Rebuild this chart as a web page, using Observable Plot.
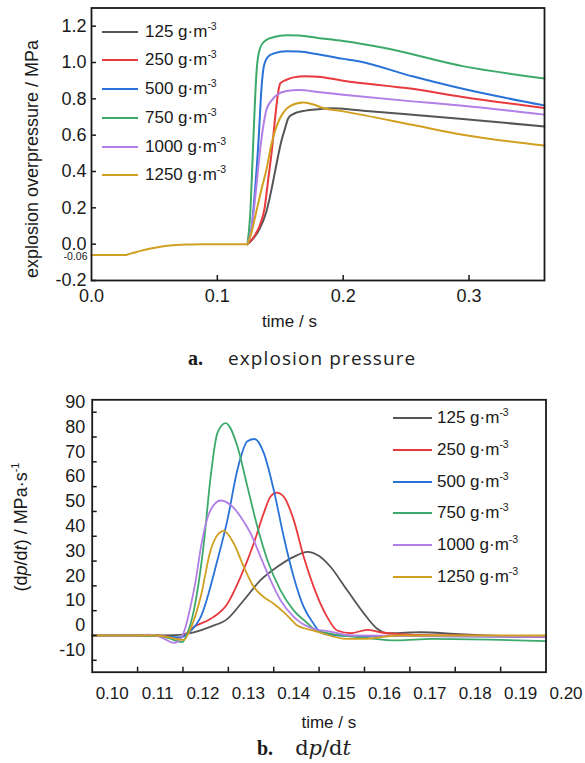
<!DOCTYPE html>
<html><head><meta charset="utf-8">
<script src="https://cdn.jsdelivr.net/npm/d3@7"></script>
<script src="https://cdn.jsdelivr.net/npm/@observablehq/plot@0.6"></script>
<style>
body{margin:0;background:#fff;}
#wrap{position:relative;width:585px;height:763px;overflow:hidden;font-family:"Liberation Sans",Arial,sans-serif;color:#1a1a1a;}
.abs{position:absolute;}
.leg{position:absolute;font-size:17px;line-height:20px;white-space:nowrap;}
.sw{position:absolute;height:0;border-top:2px solid;}
.sup{font-size:10.5px;position:relative;top:-7px;}
.cap{position:absolute;white-space:pre;line-height:30px;}
</style></head><body><div id="wrap"></div>
<script>
// ---------- data ----------
const legendNames = ["125", "250", "500", "750", "1000", "1250"];
const colors = ["#555555", "#e8393d", "#2872d8", "#3caa6b", "#b17fe6", "#d1a020"];

// panel a: explosion overpressure (MPa) vs time (s)
const pBaseline = [[0,-0.06],[0.026,-0.06],[0.031,-0.052],[0.039,-0.037],[0.047,-0.024],[0.056,-0.013],[0.065,-0.006],[0.076,-0.002],[0.087,0.0],[0.124,0.0]];
const p125  = [[0.124,0],[0.1284,0.03],[0.134,0.09],[0.139,0.18],[0.143,0.30],[0.147,0.44],[0.151,0.57],[0.1535,0.63],[0.1565,0.695],[0.160,0.715],[0.170,0.735],[0.180,0.743],[0.19,0.748],[0.216,0.735],[0.255,0.713],[0.295,0.689],[0.36,0.648]];
const p250  = [[0.124,0],[0.128,0.03],[0.1335,0.10],[0.1376,0.2],[0.1405,0.36],[0.1434,0.52],[0.146,0.70],[0.1487,0.85],[0.150,0.885],[0.155,0.905],[0.1606,0.918],[0.17,0.925],[0.18,0.922],[0.2,0.90],[0.255,0.855],[0.295,0.81],[0.36,0.75]];
const p500  = [[0.124,0],[0.127,0.08],[0.130,0.3],[0.133,0.6],[0.135,0.85],[0.137,0.98],[0.140,1.03],[0.145,1.05],[0.155,1.062],[0.165,1.06],[0.18,1.045],[0.2,1.02],[0.21,1.01],[0.255,0.924],[0.295,0.855],[0.36,0.764]];
const p750  = [[0.124,0],[0.126,0.15],[0.1283,0.52],[0.130,0.8],[0.1315,0.98],[0.134,1.08],[0.138,1.12],[0.145,1.14],[0.155,1.15],[0.165,1.148],[0.18,1.135],[0.2,1.118],[0.232,1.081],[0.295,0.98],[0.36,0.912]];
const p1000 = [[0.124,0],[0.127,0.08],[0.130,0.25],[0.134,0.52],[0.137,0.67],[0.139,0.74],[0.143,0.79],[0.147,0.82],[0.155,0.843],[0.165,0.848],[0.18,0.838],[0.2,0.823],[0.255,0.786],[0.295,0.762],[0.36,0.713]];
const p1250 = [[0.124,0],[0.127,0.06],[0.131,0.18],[0.135,0.3],[0.139,0.41],[0.143,0.55],[0.147,0.648],[0.152,0.72],[0.1577,0.76],[0.168,0.78],[0.175,0.772],[0.184,0.75],[0.2,0.731],[0.255,0.657],[0.295,0.602],[0.36,0.543]];
const xTickLabelsA = [0, 0.1, 0.2, 0.3];
const xTickMarksA = [0.1, 0.2, 0.3];
const yTicksA = [-0.2, 0, 0.2, 0.4, 0.6, 0.8, 1.0, 1.2];
const baselineLabel = [-0.06];

// panel b: dp/dt (MPa/s) vs time (s)
const d125  = [[0.100,0],[0.114,0],[0.118,0.1],[0.1224,1.3],[0.126,3.5],[0.1298,6.7],[0.1334,14.2],[0.1371,22.3],[0.1408,27.7],[0.1444,31.7],[0.1474,33.7],[0.150,32],[0.1525,27.7],[0.1562,18.2],[0.1599,8.8],[0.1628,2.7],[0.165,0.9],[0.170,1.2],[0.1724,1.3],[0.180,0.6],[0.190,-0.2],[0.200,-0.5]];
const d250  = [[0.100,0],[0.114,0],[0.117,-0.5],[0.119,-1],[0.1205,0.5],[0.1224,3.4],[0.1261,6.7],[0.1298,12.8],[0.1327,23.6],[0.1356,37.1],[0.1378,49.3],[0.1393,56],[0.1406,57.6],[0.1422,56],[0.1444,46.6],[0.1466,31.7],[0.1488,19.6],[0.1518,7.4],[0.154,2],[0.157,0.9],[0.1606,2.3],[0.1635,1.3],[0.170,0.3],[0.180,0],[0.200,-0.7]];
const d500  = [[0.100,0],[0.114,0],[0.117,-0.6],[0.1195,-0.8],[0.1215,1.5],[0.1239,7.4],[0.1276,30.4],[0.1298,46.6],[0.132,66.8],[0.1342,78.3],[0.1358,79.2],[0.1378,73.6],[0.140,58.7],[0.1422,39.8],[0.1444,23.6],[0.1466,11.5],[0.1488,4.7],[0.1503,1.3],[0.1525,0.2],[0.160,-0.2],[0.180,-0.3],[0.200,-0.5]];
const d750  = [[0.100,0],[0.114,0],[0.117,-1.2],[0.1198,-2.7],[0.121,1],[0.1224,10.1],[0.1246,37.1],[0.1261,64],[0.1276,81.7],[0.1294,85.6],[0.132,76.2],[0.1342,60],[0.1364,43.8],[0.1386,30.4],[0.1415,18.2],[0.1444,10.1],[0.1474,5],[0.1488,2.7],[0.1525,0.7],[0.1599,-0.9],[0.1672,-2],[0.175,-1.4],[0.190,-1.8],[0.200,-2.3]];
const d1000 = [[0.100,0],[0.110,0],[0.112,0.3],[0.114,0],[0.116,-1.5],[0.118,-3],[0.1195,-1.5],[0.1205,3],[0.1217,12],[0.1228,22],[0.1239,35],[0.1261,50.6],[0.1283,54.4],[0.1305,52.6],[0.1327,47.9],[0.1349,41.2],[0.1371,31.7],[0.1393,22.3],[0.1415,14.2],[0.1444,7.5],[0.1488,2.7],[0.1525,1.6],[0.157,0],[0.180,-0.3],[0.200,-0.6]];
const d1250 = [[0.100,0],[0.114,0],[0.117,-0.8],[0.1202,-1.8],[0.1215,2],[0.1239,15.5],[0.1261,34.4],[0.1276,40.5],[0.129,42.2],[0.1312,37.1],[0.1334,27.7],[0.1356,19.6],[0.1378,15.5],[0.140,12.8],[0.1422,9.4],[0.1444,5.4],[0.1452,4],[0.1488,2],[0.1562,-1.4],[0.160,-1.4],[0.1672,0],[0.200,0]];
const xTickLabelsB = [0.10,0.11,0.12,0.13,0.14,0.15,0.16,0.17,0.18,0.19,0.20];
const xTickMarksB = [0.11,0.12,0.13,0.14,0.15,0.16,0.17,0.18,0.19];
const yTicksB = [-10,0,10,20,30,40,50,60,70,80,90];

// ---------- drawing ----------
const wrap = document.getElementById("wrap");
const hy = d => (d < 0 ? "-" : "") + Math.abs(d);
const line = (data, c, w) => Plot.line(data, {x: d => d[0], y: d => d[1], stroke: c, strokeWidth: w, curve: "monotone-x"});
const ink = "#1a1a1a";
const fam = "'Liberation Sans', Arial, sans-serif";

// panel a
const A = {w: 585, h: 336, mt: 7.5, mb: 56, ml: 91, mr: 41};
const aSeries = [p125, p250, p500, p750, p1000, p1250];
const plotA = Plot.plot({
  width: A.w, height: A.h, marginTop: A.mt, marginBottom: A.mb, marginLeft: A.ml, marginRight: A.mr,
  x: {domain: [0, 0.36]}, y: {domain: [-0.2, 1.3]},
  style: {fontFamily: fam, fontSize: "18px", color: ink, background: "transparent"},
  marks: [
    ...aSeries.map((s, i) => line(s, colors[i], 2)),
    line(pBaseline, colors[5], 2),
    Plot.frame({stroke: ink, strokeWidth: 1.8}),
    Plot.tickX(xTickMarksA, {x: d => d, insetTop: (A.h - A.mt - A.mb) - 5, stroke: ink, strokeWidth: 1.5}),
    Plot.tickY(yTicksA, {y: d => d, insetRight: (A.w - A.ml - A.mr) - 5, stroke: ink, strokeWidth: 1.5}),
    Plot.axisX({ticks: xTickLabelsA, tickSize: 0, tickPadding: 9, tickFormat: d => d.toFixed(1), label: null, fontSize: 18}),
    Plot.axisY({ticks: yTicksA, tickSize: 0, tickPadding: 5, tickFormat: d => (d < 0 ? "-" : "") + Math.abs(d).toFixed(1), label: null, fontSize: 18}),
    Plot.text(baselineLabel, {y: d => d, frameAnchor: "left", textAnchor: "end", dx: -4, dy: 1.5, text: d => hy(d), fontSize: 10.5}),
    Plot.text(["time / s"], {frameAnchor: "bottom", textAnchor: "middle", lineAnchor: "middle", dx: -28.5, dy: 41.3, fontSize: 17}),
    Plot.text(["explosion overpressure / MPa"], {frameAnchor: "left", textAnchor: "middle", lineAnchor: "middle", rotate: -90, dx: -59.3, dy: 14.75, fontSize: 18})
  ]
});
plotA.style.position = "absolute"; plotA.style.left = "0px"; plotA.style.top = "0px";
wrap.appendChild(plotA);

// panel b
const B = {top: 380, w: 585, h: 352, mt: 19.3, mb: 60.3, ml: 91.7, mr: 39.5};
const bSeries = [d125, d250, d500, d750, d1000, d1250];
const plotB = Plot.plot({
  width: B.w, height: B.h, marginTop: B.mt, marginBottom: B.mb, marginLeft: B.ml, marginRight: B.mr,
  x: {domain: [0.10, 0.20]}, y: {domain: [-14.8, 95]},
  style: {fontFamily: fam, fontSize: "17px", color: ink, background: "transparent"},
  marks: [
    ...bSeries.map((s, i) => line(s, colors[i], 1.8)),
    Plot.frame({stroke: ink, strokeWidth: 1.8}),
    Plot.tickX(xTickMarksB, {x: d => d, insetTop: (B.h - B.mt - B.mb) - 5, stroke: ink, strokeWidth: 1.5}),
    Plot.tickY(yTicksB, {y: d => d, insetRight: (B.w - B.ml - B.mr) - 5, stroke: ink, strokeWidth: 1.5}),
    Plot.axisX({ticks: xTickLabelsB, tickSize: 0, tickPadding: 15, dx: 20, tickFormat: d => d.toFixed(2), label: null, fontSize: 17}),
    Plot.axisY({ticks: yTicksB, tickSize: 0, tickPadding: 7, dy: -10, tickFormat: hy, label: null, fontSize: 18}),
    Plot.text(["time / s"], {frameAnchor: "bottom", textAnchor: "middle", lineAnchor: "middle", dx: 9.7, dy: 50, fontSize: 17})
  ]
});
plotB.style.position = "absolute"; plotB.style.left = "0px"; plotB.style.top = B.top + "px";
wrap.appendChild(plotB);

// legends
function legend(x0, x1, xt, y0, dy) {
  legendNames.forEach((n, i) => {
    const y = y0 + dy * i;
    const sw = document.createElement("div");
    sw.className = "sw";
    sw.style.left = x0 + "px"; sw.style.width = (x1 - x0) + "px"; sw.style.top = (y - 1) + "px";
    sw.style.borderTopColor = colors[i];
    wrap.appendChild(sw);
    const t = document.createElement("div");
    t.className = "leg";
    t.style.left = xt + "px"; t.style.top = (y - 10) + "px";
    t.innerHTML = n + " g·m<span class='sup'>-3</span>";
    wrap.appendChild(t);
  });
}
legend(101.7, 138.3, 145, 31.7, 28.7);
legend(393, 432, 437, 418.3, 31.7);

// y label of panel b (mixed italics)
const yl = document.createElement("div");
yl.className = "abs";
yl.style.cssText = "left:21.7px;top:527px;transform:translate(-50%,-50%) rotate(-90deg);white-space:nowrap;font-size:18px;line-height:20px;";
yl.innerHTML = "(d<i>p</i>/d<i>t</i>) / MPa·s<span class='sup' style='font-size:11px;top:-8px'>-1</span>";
wrap.appendChild(yl);

// captions
const capA = document.createElement("div");
capA.className = "cap";
capA.style.cssText += "left:188px;top:343px;";
capA.innerHTML = "<span style=\"font-family:'Liberation Serif',serif;font-weight:bold;font-size:20px\">a.</span><span style=\"display:inline-block;width:25px\"></span><span style=\"font-family:'Open Sans',sans-serif;font-size:19px;letter-spacing:1.1px;color:#222\">explosion pressure</span>";
wrap.appendChild(capA);
const capB = document.createElement("div");
capB.className = "cap";
capB.style.cssText += "left:257px;top:733px;";
capB.innerHTML = "<span style=\"font-family:'Liberation Serif',serif;font-weight:bold;font-size:20px\">b.</span><span style=\"display:inline-block;width:22px\"></span><span style=\"font-family:'DejaVu Serif',serif;font-size:21px;color:#222\">d<i>p</i>/d<i>t</i></span>";
wrap.appendChild(capB);
</script>
</body></html>
